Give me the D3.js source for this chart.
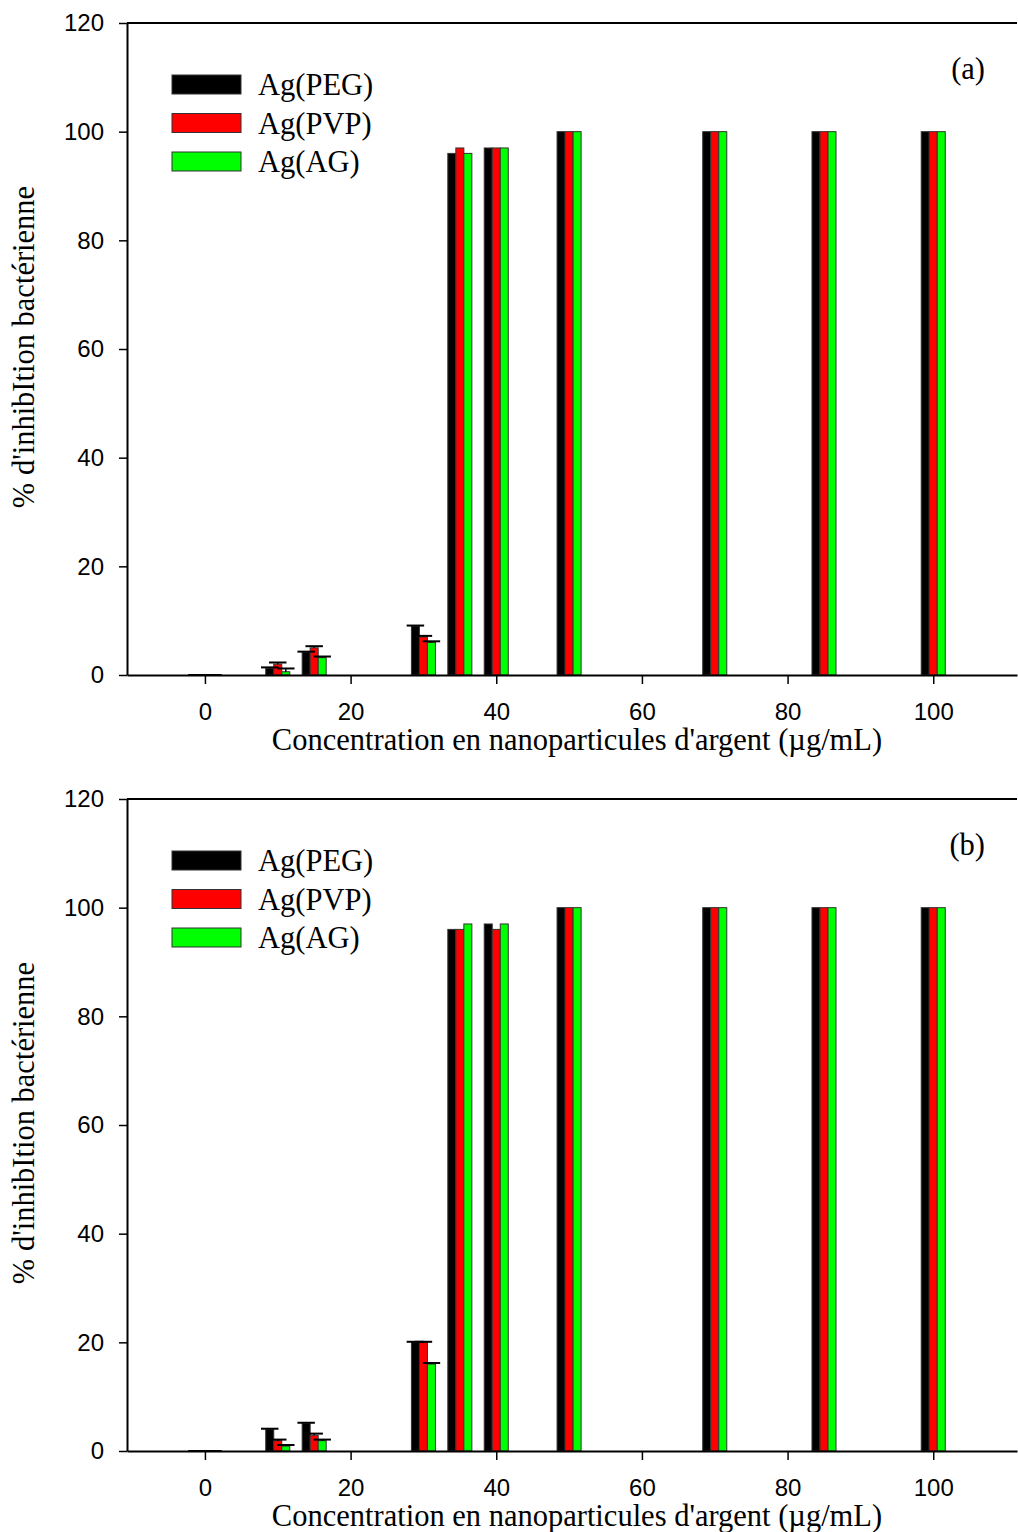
<!DOCTYPE html>
<html>
<head>
<meta charset="utf-8">
<script src="https://cdn.jsdelivr.net/npm/d3@7"></script>
<style>
  body { margin: 0; background: #fff; }
  .tick text { font-family: "Liberation Sans", Arial, sans-serif; font-size: 24px; fill: #000; }
  .ttl { font-family: "Liberation Serif", "Times New Roman", serif; font-size: 30.5px; fill: #000; }
</style>
</head>
<body>
<div id="graph"></div>
<script>
var w = 1018, h = 1532;

// concentrations (µg/mL)
var conc = [0, 10, 15, 30, 35, 40, 50, 70, 85, 100];
var series = ["Ag(PEG)", "Ag(PVP)", "Ag(AG)"];
var colors = ["#000000", "#ff0000", "#00ff00"];
var yTicks = [0, 20, 40, 60, 80, 100, 120];
var xTicks = [0, 20, 40, 60, 80, 100];

// panel (a)
var a_peg = [0, 1.2, 4.2, 9, 96, 97, 100, 100, 100, 100];
var a_pvp = [0, 2, 5, 7, 97, 97, 100, 100, 100, 100];
var a_ag  = [0, 0.6, 3.2, 6, 96, 97, 100, 100, 100, 100];
var a_peg_err = [0, 0.2, 0.1, 0.1, null, null, null, null, null, null];
var a_pvp_err = [0, 0.3, 0.3, 0.2, null, null, null, null, null, null];
var a_ag_err  = [0, 0.6, 0.2, 0.2, null, null, null, null, null, null];

// panel (b)
var b_peg = [0, 4, 5.1, 20, 96, 97, 100, 100, 100, 100];
var b_pvp = [0, 1.9, 2.9, 20, 96, 96, 100, 100, 100, 100];
var b_ag  = [0, 0.9, 1.9, 16, 97, 97, 100, 100, 100, 100];
var b_peg_err = [0, 0.1, 0.1, 0.1, null, null, null, null, null, null];
var b_pvp_err = [0, 0.2, 0.3, 0.1, null, null, null, null, null, null];
var b_ag_err  = [0, 0.2, 0.2, 0.2, null, null, null, null, null, null];

var svg = d3.select("#graph")
	.append("svg")
	.attr("width", w)
	.attr("height", h);

var x = d3.scaleLinear().domain([-10.7, 111.5]).range([127, 1017]);
var barW = 1.1; // in x units
var capW = 2.4;

function drawPanel(top, bottom, vals, errs, label) {
	var y = d3.scaleLinear().domain([0, 120]).range([bottom, top]);
	var g = svg.append("g");

	// bars
	for (var s = 0; s < 3; s++) {
		var off = (s - 1) * barW;
		g.selectAll(null)
			.data(conc.map(function(c, i) { return {c: c, v: vals[s][i], e: errs[s][i]}; }))
			.enter().append("rect")
			.attr("x", function(d) { return x(d.c + off - barW / 2); })
			.attr("width", x(barW) - x(0))
			.attr("y", function(d) { return y(d.v); })
			.attr("height", function(d) { return y(0) - y(d.v); })
			.attr("fill", colors[s])
			.attr("stroke", "#333")
			.attr("stroke-width", 1);
	}
	// error bars
	for (var s = 0; s < 3; s++) {
		var off = (s - 1) * barW;
		var ed = conc.map(function(c, i) { return {c: c, v: vals[s][i], e: errs[s][i]}; })
			.filter(function(d) { return d.e !== null; });
		g.selectAll(null).data(ed).enter().append("line")
			.attr("x1", function(d) { return x(d.c + off); })
			.attr("x2", function(d) { return x(d.c + off); })
			.attr("y1", function(d) { return y(d.v); })
			.attr("y2", function(d) { return y(d.v + d.e); })
			.attr("stroke", "#000").attr("stroke-width", 1.5);
		g.selectAll(null).data(ed).enter().append("line")
			.attr("x1", function(d) { return x(d.c + off - capW / 2); })
			.attr("x2", function(d) { return x(d.c + off + capW / 2); })
			.attr("y1", function(d) { return y(d.v + d.e); })
			.attr("y2", function(d) { return y(d.v + d.e); })
			.attr("stroke", "#000").attr("stroke-width", 2);
	}

	// axes
	g.append("g")
		.attr("transform", "translate(127,0)")
		.call(d3.axisLeft(y).tickValues(yTicks).tickSize(8).tickSizeOuter(0).tickPadding(15));
	g.append("g")
		.attr("transform", "translate(0," + bottom + ")")
		.call(d3.axisBottom(x).tickValues(xTicks).tickSize(9).tickSizeOuter(0).tickPadding(19));
	g.selectAll(".domain").attr("stroke", "#000").attr("stroke-width", 2);
	g.selectAll(".tick line").attr("stroke", "#000").attr("stroke-width", 1.5);
	g.append("line")
		.attr("x1", 127).attr("x2", 1017)
		.attr("y1", top).attr("y2", top)
		.attr("stroke", "#000").attr("stroke-width", 2);

	// titles
	g.append("text").attr("class", "ttl")
		.attr("x", 577).attr("y", bottom + 75)
		.attr("text-anchor", "middle")
		.text("Concentration en nanoparticules d'argent (\u00b5g/mL)");
	g.append("text").attr("class", "ttl")
		.attr("transform", "translate(34," + ((top + bottom) / 2 - 2) + ") rotate(-90)")
		.attr("text-anchor", "middle")
		.text("% d'inhibItion bact\u00e9rienne");
	g.append("text").attr("class", "ttl")
		.attr("x", 985).attr("y", top + 56)
		.attr("text-anchor", "end")
		.text(label);

	// legend
	for (var s = 0; s < 3; s++) {
		var ly = top + 52 + s * 38.5;
		g.append("rect")
			.attr("x", 172).attr("y", ly)
			.attr("width", 69).attr("height", 19)
			.attr("fill", colors[s]).attr("stroke", "#333").attr("stroke-width", 1);
		g.append("text").attr("class", "ttl")
			.attr("x", 258).attr("y", ly + 20)
			.text(series[s]);
	}
}

drawPanel(23, 675, [a_peg, a_pvp, a_ag], [a_peg_err, a_pvp_err, a_ag_err], "(a)");
drawPanel(799, 1451, [b_peg, b_pvp, b_ag], [b_peg_err, b_pvp_err, b_ag_err], "(b)");
</script>
</body>
</html>
